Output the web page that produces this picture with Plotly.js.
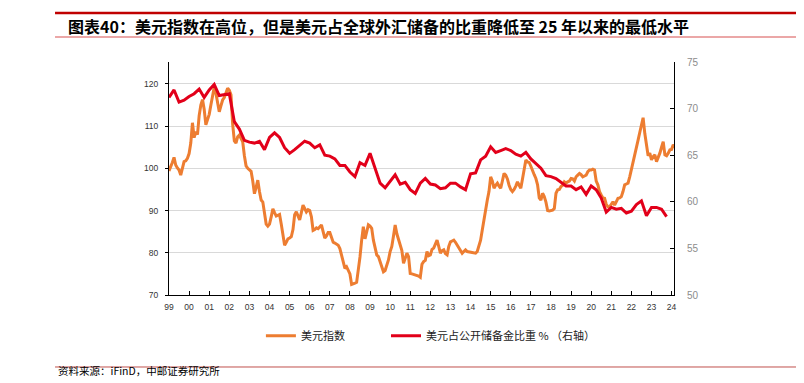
<!DOCTYPE html>
<html>
<head>
<meta charset="utf-8">
<script src="https://cdn.plot.ly/plotly-3.0.1.min.js"></script>
<style>html,body{margin:0;padding:0;background:#fff;}#chart{width:804px;height:383px;}</style>
</head>
<body>
<div id="chart"></div>
<script>
// ---- data ----
const titleText = "图表40：美元指数在高位，但是美元占全球外汇储备的比重降低至 25 年以来的最低水平";
const sourceText = "资料来源：iFinD，中邮证券研究所";
const seriesNames = ["美元指数", "美元占公开储备金比重 % （右轴）"];
const yearTickVals = [1999,2000,2001,2002,2003,2004,2005,2006,2007,2008,2009,2010,2011,2012,2013,2014,2015,2016,2017,2018,2019,2020,2021,2022,2023,2024];
const yearTickText = ["99","00","01","02","03","04","05","06","07","08","09","10","11","12","13","14","15","16","17","18","19","20","21","22","23","24"];
const dxyStartYear = 1999; // monthly values, Jan 1999 onward
const dxyMonthly = [
  99.4,100.3,101.4,102.6,100.8,100.1,99.6,98.4,99.9,101.6,101.8,102.4,      // 1999
  103.5,106.0,110.8,107.3,108.7,108.0,112.5,115.0,116.3,114.0,110.3,111.5,  // 2000
  112.8,115.0,117.5,119.2,117.8,115.5,113.4,114.8,116.2,116.8,117.8,119.0,  // 2001
  118.5,117.4,110.5,106.5,106.0,107.5,107.9,107.0,106.3,103.0,100.6,100.0,  // 2002
  99.6,99.3,97.0,94.0,95.5,97.2,94.5,92.5,92.0,89.0,86.8,86.3,              // 2003
  86.8,88.5,90.4,89.5,88.7,88.9,89.1,86.8,84.5,81.8,82.5,83.3,              // 2004
  83.5,83.8,85.5,89.0,89.7,88.5,87.8,89.5,91.3,90.5,89.7,90.2,              // 2005
  90.0,88.5,85.3,85.5,85.9,85.7,86.2,86.6,85.0,83.5,84.0,84.8,              // 2006
  84.8,83.5,82.5,82.3,82.0,81.8,81.0,79.5,77.5,76.3,76.7,76.0,              // 2007
  75.0,72.5,72.6,72.8,73.0,75.9,79.0,83.0,86.2,83.3,85.0,86.6,              // 2008
  86.3,85.8,83.0,81.1,79.5,79.1,77.8,76.5,75.5,75.8,77.0,78.3,              // 2009
  80.3,81.5,84.0,86.6,84.5,83.0,82.0,80.5,77.5,78.8,79.9,79.1,              // 2010
  75.1,75.0,74.9,74.8,74.7,74.5,74.2,77.3,77.9,78.2,80.3,79.3,              // 2011
  79.5,80.8,81.1,82.0,83.0,81.5,79.9,80.5,80.7,79.8,79.5,81.5,              // 2012
  82.6,82.8,83.0,82.5,81.8,81.4,80.5,79.9,80.3,80.7,80.3,80.2,              // 2013
  80.2,80.0,79.9,79.9,80.3,81.4,83.0,85.4,88.0,90.5,92.5,94.5,              // 2014
  98.0,97.0,95.3,96.0,96.5,95.8,95.3,97.0,98.8,98.4,97.5,96.0,              // 2015
  95.0,94.5,95.0,95.8,96.8,96.0,95.3,97.5,100.0,102.0,101.5,101.4,          // 2016
  100.5,99.2,98.5,97.6,96.1,93.0,92.5,94.1,93.3,92.0,90.0,89.9,             // 2017
  90.0,90.1,90.5,94.1,94.9,95.0,95.7,96.0,96.8,96.5,96.8,97.0,              // 2018
  97.6,97.5,97.0,98.0,98.4,98.8,98.5,98.0,98.2,98.4,99.2,99.6,              // 2019
  99.6,99.8,99.6,97.0,96.1,94.5,93.7,93.0,92.9,91.5,90.9,90.9,              // 2020
  91.5,92.1,91.3,92.0,92.9,93.0,93.3,94.5,96.1,96.3,96.5,98.0,              // 2021
  99.6,101.5,103.2,105.0,106.7,108.5,110.0,112.0,108.3,105.0,103.0,103.6,   // 2022
  102.0,102.8,103.2,101.6,102.5,103.6,105.0,106.3,103.2,103.0,103.6,104.4,  // 2023
  104.5,105.6,105.0                                                          // 2024
];
const shareStartYear = 1999; // quarterly values, 1999Q1 onward
const usdShareQuarterly = [
  71.2,72.0,70.7,70.9, 71.3,71.6,72.1,71.2, 72.0,72.6,71.4,71.5, 71.6,68.6,67.8,66.6,
  66.4,66.3,66.5,65.6, 66.9,67.4,66.9,65.8, 65.2,65.6,66.0,66.5, 66.3,65.8,66.1,65.0,
  64.9,64.6,63.9,63.9, 63.2,62.7,64.2,63.9, 65.2,63.5,62.0,61.5, 62.2,62.9,61.9,62.1,
  61.3,60.9,62.0,62.5, 61.9,61.8,61.4,61.5, 62.0,62.0,61.6,61.3, 63.0,63.1,64.5,64.9,
  65.9,65.3,65.5,65.7, 65.5,65.1,64.9,65.3, 64.6,64.1,63.6,62.8, 62.7,62.5,62.1,61.7,
  61.7,61.3,61.6,60.8, 61.7,61.3,60.4,58.9, 59.4,59.2,59.3,58.8, 59.0,59.7,60.1,58.5,
  59.4,59.4,59.2,58.4
];

// ---- positions derived from the category order ----
const dxyX = dxyMonthly.map((_, i) => dxyStartYear + i / 12);
const shareX = usdShareQuarterly.map((_, i) => shareStartYear + i / 4);

const traces = [
  {x: dxyX, y: dxyMonthly, type: 'scatter', mode: 'lines', name: seriesNames[0],
   line: {color: '#ED7D31', width: 3}, yaxis: 'y', legend: 'legend', hoverinfo: 'skip'},
  {x: shareX, y: usdShareQuarterly, type: 'scatter', mode: 'lines', name: seriesNames[1],
   line: {color: '#E2001A', width: 3}, yaxis: 'y2', legend: 'legend2', hoverinfo: 'skip'}
];

const tickFont = {family: 'Liberation Sans, Arial, sans-serif', size: 8.5, color: '#333'};
const cjk = 'Noto Sans CJK SC, sans-serif';

const layout = {
  width: 804, height: 383,
  margin: {l: 169, r: 130, t: 62, b: 88, pad: 0},
  paper_bgcolor: '#fff', plot_bgcolor: '#fff',
  showlegend: true,
  xaxis: {
    type: 'linear', range: [1999, 2024.12], tickvals: yearTickVals, ticktext: yearTickText,
    showgrid: false, zeroline: false, showline: true, linecolor: '#000', linewidth: 1,
    ticks: 'inside', ticklen: 4, tickcolor: '#000', tickfont: tickFont, ticklabelstandoff: 4
  },
  yaxis: {
    range: [70, 125.2], tickvals: [70, 80, 90, 100, 110, 120],
    showgrid: true, gridcolor: '#d9d9d9', gridwidth: 1, zeroline: false,
    showline: true, linecolor: '#000', linewidth: 1,
    ticks: 'outside', ticklen: 3, tickcolor: '#000', tickfont: tickFont, ticklabelstandoff: 5
  },
  yaxis2: {
    overlaying: 'y', side: 'right', range: [50, 75], tickvals: [50, 55, 60, 65, 70, 75],
    showgrid: false, zeroline: false, showline: true, linecolor: '#000', linewidth: 1,
    ticks: 'inside', ticklen: 4, tickcolor: '#000',
    tickfont: {family: 'Liberation Sans, Arial, sans-serif', size: 10, color: '#8c8c8c'},
    ticklabelstandoff: 10
  },
  legend: {x: 0.182, y: -0.175, xanchor: 'left', yanchor: 'middle', orientation: 'h',
           font: {family: cjk, size: 11, color: '#222'}, bgcolor: 'rgba(0,0,0,0)', borderwidth: 0},
  legend2: {x: 0.4297, y: -0.175, xanchor: 'left', yanchor: 'middle', orientation: 'h',
           font: {family: cjk, size: 11, color: '#222'}, bgcolor: 'rgba(0,0,0,0)', borderwidth: 0},
  shapes: [
    {type: 'line', xref: 'paper', yref: 'paper', x0: -0.2257, x1: 1.2416, y0: 1.2103, y1: 1.2103,
     line: {color: '#C00000', width: 2.5}},
    {type: 'line', xref: 'paper', yref: 'paper', x0: -0.2257, x1: 1.2416, y0: 1.1073, y1: 1.1073,
     line: {color: '#E58A8A', width: 1.5}},
    {type: 'line', xref: 'paper', yref: 'paper', x0: -0.2257, x1: 1.2416, y0: -0.309, y1: -0.309,
     line: {color: '#C0504D', width: 1}}
  ],
  annotations: [
    {text: titleText, xref: 'paper', yref: 'paper', x: -0.204, y: 1.1545, xanchor: 'left', yanchor: 'middle',
     showarrow: false, font: {family: cjk, size: 16, color: '#000', weight: 'bold'}},
    {text: sourceText, xref: 'paper', yref: 'paper', x: -0.2218, y: -0.3605, xanchor: 'left', yanchor: 'bottom',
     showarrow: false, borderpad: 0, font: {family: cjk, size: 10.5, color: '#000'}}
  ]
};

Plotly.newPlot('chart', traces, layout, {staticPlot: true, displayModeBar: false});
</script>
</body>
</html>
